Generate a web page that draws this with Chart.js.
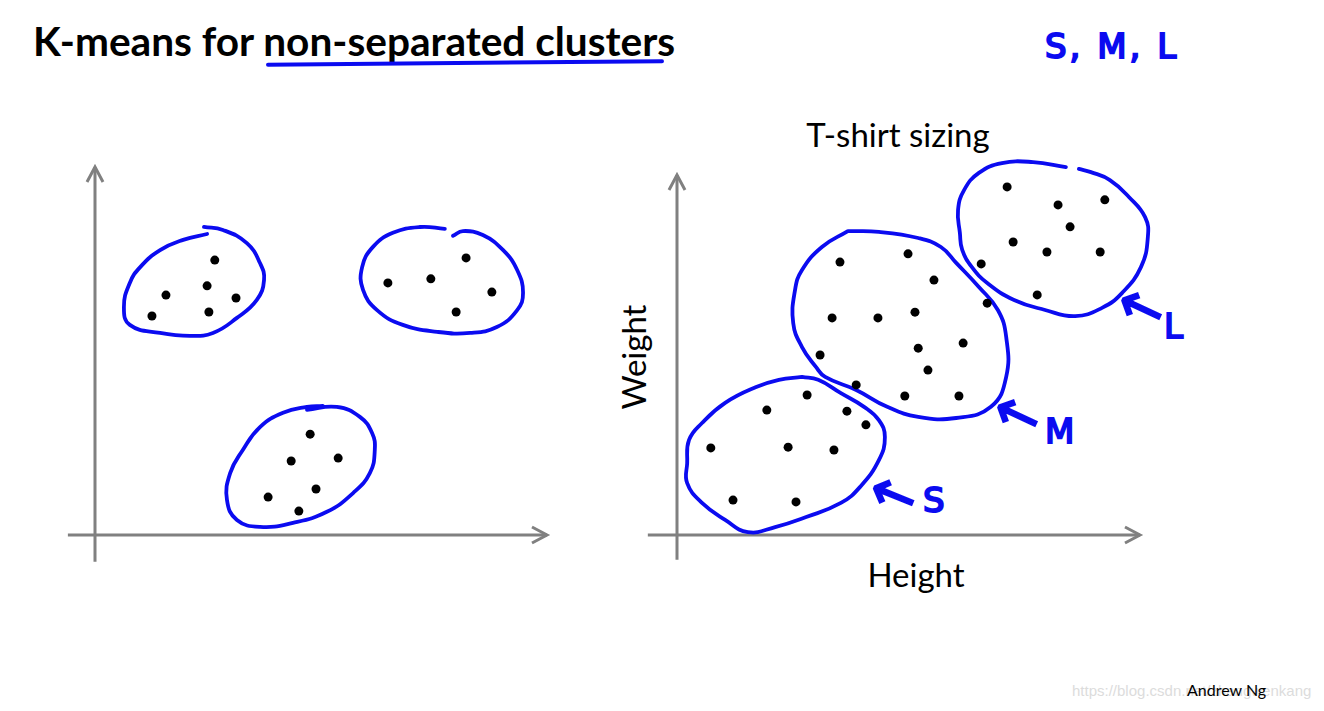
<!DOCTYPE html>
<html><head><meta charset="utf-8">
<script src="https://cdn.jsdelivr.net/npm/chart.js@4/dist/chart.umd.min.js"></script>
<style>
html,body{margin:0;padding:0;background:#fff}
body{width:1324px;height:711px;overflow:hidden;position:relative;font-family:Lato,"Open Sans",sans-serif;color:#000}
.t{position:absolute;white-space:nowrap;line-height:1}
.hand{font-family:"DejaVu Sans",sans-serif;font-weight:normal;color:#0b0bf0;font-size:34px;-webkit-text-stroke:2px #0b0bf0}
.arr{font-size:56px;-webkit-text-stroke:2px #0b0bf0}
canvas{position:absolute}
</style></head>
<body>
<div class="t" style="left:33px;top:21px;font-size:40.6px;font-weight:bold">K-means for non-separated clusters</div>
<div style="position:absolute;left:266px;top:61px;width:398px;height:3.5px;background:#0b0bf0;transform:rotate(-0.5deg);border-radius:2px"></div>
<div class="t hand" style="left:1045px;top:29px;letter-spacing:3px">S, M, L</div>
<div class="t" style="left:898px;top:118px;font-size:33px;transform:translateX(-50%)">T-shirt sizing</div>
<div class="t" style="left:916px;top:558px;font-size:33px;transform:translateX(-50%)">Height</div>
<div class="t" style="left:633px;top:357px;font-size:33px;transform:translate(-50%,-50%) rotate(-90deg)">Weight</div>
<div class="t" style="left:1072px;top:683px;font-size:15px;font-family:'Liberation Sans',Arial,sans-serif;color:#dcdcdc">https://blog.csdn.net/zhangwenkang</div>
<div class="t" style="left:1187px;top:682px;font-size:16px">Andrew Ng</div>
<div class="t hand arr" style="left:894px;top:494px;transform:translate(-50%,-50%) rotate(22deg)">←</div>
<div class="t hand" style="left:923px;top:483px">S</div>
<div class="t hand arr" style="left:1018px;top:414px;transform:translate(-50%,-50%) rotate(25deg)">←</div>
<div class="t hand" style="left:1045px;top:414px">M</div>
<div class="t hand arr" style="left:1142px;top:307px;transform:translate(-50%,-50%) rotate(25deg)">←</div>
<div class="t hand" style="left:1164px;top:309px">L</div>
<canvas id="left" width="540" height="440" style="left:40px;top:140px"></canvas>
<canvas id="right" width="620" height="440" style="left:600px;top:140px"></canvas>
<script>
// ---- Left panel: three well separated clusters (x, y in arbitrary units) ----
const leftCluster1 = [[26.5,74.7],[24.8,67.7],[15.7,65.2],[31.2,64.4],[12.6,59.5],[25.2,60.6]];
const leftCluster2 = [[64.8,68.5],[74.3,69.6],[82.1,75.3],[87.8,66.0],[79.9,60.6]];
const leftCluster3 = [[47.6,27.4],[43.4,20.1],[53.8,20.9],[48.9,12.5],[38.3,10.3],[45.1,6.5]];

// ---- Right panel: T-shirt sizing (Height, Weight) ----
const sizeS = [[7.3,24.2],[19.4,34.7],[28.1,38.9],[36.7,34.4],[40.8,30.6],[24.0,24.4],[33.9,23.6],[12.1,9.7],[25.7,9.2]];
const sizeM = [[35.2,75.8],[49.9,78.1],[55.5,70.8],[33.5,60.3],[43.4,60.3],[51.4,61.9],[67.0,64.4],[61.8,53.3],[30.9,50.0],[52.1,51.9],[54.2,45.8],[38.7,41.7],[49.2,38.6],[60.9,38.6]];
const sizeL = [[71.3,96.7],[82.3,91.7],[92.4,93.1],[84.9,85.6],[72.6,81.4],[79.9,78.6],[91.4,78.6],[65.7,75.3],[77.8,66.7]];

// ---- Hand-drawn cluster outlines (same units) ----
const leftRing1 = [[24.1,83.7],[28.3,82.9],[33.6,79.3],[36.5,73.9],[37.4,69.3],[35.8,63.9],[31.4,59.0],[26.1,54.9],[21.0,54.1],[14.4,54.9],[7.7,57.1],[6.4,62.0],[7.7,68.5],[10.0,72.8],[14.4,77.4],[19.5,80.2],[24.8,81.8]];
const leftRing2 = [[77.4,83.2],[71.9,83.7],[65.9,82.1],[61.5,78.3],[59.1,72.8],[59.3,66.6],[62.4,61.1],[68.1,57.1],[75.7,55.2],[83.0,54.9],[88.9,56.5],[93.4,61.1],[94.7,65.8],[93.4,72.0],[90.3,77.4],[85.8,81.5],[81.4,82.6],[79.2,81.3]];
const leftRing3 = [[46.9,34.0],[53.5,34.8],[58.6,32.1],[61.3,27.7],[61.9,23.1],[60.8,16.8],[57.1,11.4],[51.3,6.3],[43.8,3.3],[36.5,2.2],[31.4,4.1],[29.2,9.5],[29.9,16.8],[32.7,23.1],[36.5,29.3],[41.6,33.2],[46.9,34.8],[50.4,35.1]];
const ringS = [[27.0,43.9],[22.0,43.1],[17.1,41.1],[10.4,36.7],[5.4,31.1],[2.6,26.4],[2.2,20.0],[2.2,14.4],[5.4,8.9],[10.4,4.2],[15.3,0.8],[21.2,2.2],[27.9,5.0],[35.4,8.9],[39.5,13.3],[43.6,20.8],[44.9,27.2],[43.6,31.9],[40.4,35.6],[35.4,39.4],[30.5,43.1],[27.0,43.9]];
const ringM = [[36.9,84.4],[43.6,84.2],[52.1,82.5],[57.0,80.0],[60.3,75.6],[65.2,68.9],[69.3,62.5],[71.1,55.0],[71.1,43.9],[67.8,35.6],[60.3,32.5],[52.1,32.8],[45.4,35.6],[38.7,40.3],[32.0,43.9],[30.0,46.7],[27.0,52.2],[25.1,58.9],[25.5,68.1],[27.0,73.6],[31.3,80.0],[36.9,84.4]];
const ringL = [[84.0,102.2],[76.9,103.6],[70.2,103.3],[65.2,100.6],[62.0,95.8],[60.7,90.3],[61.1,83.9],[61.6,79.2],[63.7,74.4],[67.0,70.0],[72.8,65.3],[79.5,62.5],[86.0,60.8],[91.8,63.1],[96.1,67.2],[100.2,74.4],[101.7,82.8],[101.1,88.3],[97.6,93.9],[93.5,98.6],[89.4,100.8],[86.8,101.7]];

const BLUE = '#0b0bf0';
const toXY = a => a.map(p => ({x:p[0], y:p[1]}));

const axisArrows = {
  id:'axisArrows',
  beforeDatasetsDraw(chart, args, o){
    const {ctx, scales:{x,y}} = chart;
    const ox = x.getPixelForValue(0), oy = y.getPixelForValue(0);
    const xs = x.getPixelForValue(o.xFrom), xe = x.getPixelForValue(100);
    const ys = y.getPixelForValue(o.yFrom), ye = y.getPixelForValue(100);
    ctx.save();
    ctx.strokeStyle = '#808080'; ctx.lineWidth = 3; ctx.lineJoin = 'miter';
    ctx.beginPath();
    ctx.moveTo(xs, oy); ctx.lineTo(xe, oy);
    ctx.moveTo(ox, ys); ctx.lineTo(ox, ye);
    ctx.stroke();
    ctx.beginPath();
    ctx.moveTo(xe-15, oy-8); ctx.lineTo(xe, oy); ctx.lineTo(xe-15, oy+8);
    ctx.moveTo(ox-8, ye+15); ctx.lineTo(ox, ye); ctx.lineTo(ox+8, ye+15);
    ctx.stroke();
    ctx.restore();
  }
};

function makePanel(id, frame, pointSets, rings, axisFrom){
  const {left, top, w, h, ox, oy, sx, sy} = frame;
  const datasets = [];
  pointSets.forEach(p => datasets.push({data:toXY(p), showLine:false, pointRadius:4.5, pointHoverRadius:4.5,
    pointBackgroundColor:'#000', pointBorderWidth:0, borderColor:'#000', clip:false}));
  rings.forEach(r => datasets.push({data:toXY(r), showLine:true, pointRadius:0, pointHoverRadius:0,
    borderColor:BLUE, borderWidth:3.8, tension:0.45, fill:false, clip:false, borderCapStyle:'round', borderJoinStyle:'round'}));
  new Chart(document.getElementById(id), {
    type:'scatter',
    data:{datasets},
    options:{
      responsive:false, animation:false, events:[],
      layout:{padding:0, autoPadding:false},
      plugins:{legend:{display:false}, tooltip:{enabled:false}, axisArrows:axisFrom},
      scales:{
        x:{type:'linear', display:false, min:(left-ox)/sx, max:(left+w-ox)/sx},
        y:{type:'linear', display:false, min:(oy-(top+h))/sy, max:(oy-top)/sy}
      }
    },
    plugins:[axisArrows]
  });
}

makePanel('left', {left:40, top:140, w:540, h:440, ox:95, oy:535, sx:4.52, sy:3.68},
  [leftCluster1, leftCluster2, leftCluster3], [leftRing1, leftRing2, leftRing3], {xFrom:-6, yFrom:-7.3});
makePanel('right', {left:600, top:140, w:620, h:440, ox:677, oy:535, sx:4.63, sy:3.6},
  [sizeS, sizeM, sizeL], [ringS, ringM, ringL], {xFrom:-6.3, yFrom:-6.9});
</script>
</body></html>
